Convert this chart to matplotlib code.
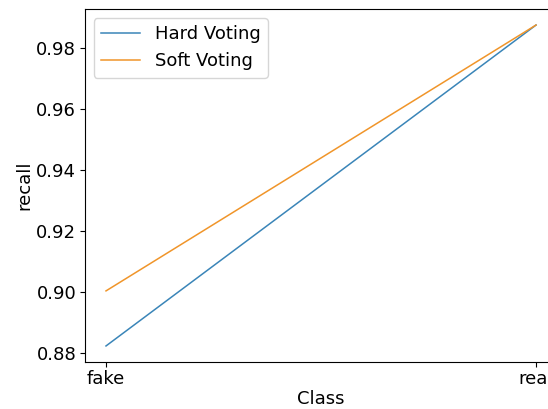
import matplotlib.pyplot as plt

classes = ["fake", "real"]
hard_voting = [0.8822, 0.9877]
soft_voting = [0.9003, 0.9877]

fig = plt.figure(figsize=(5.48, 4.09), dpi=100)
# axes runs a bit past the right edge, so "real" gets clipped
ax = fig.add_axes([84.5 / 548, 47 / 409, 473 / 548, 353 / 409])

ax.plot(classes, hard_voting, color="#3a85b8", lw=1.1, label="Hard Voting")
ax.plot(classes, soft_voting, color="#f0952a", lw=1.1, label="Soft Voting")

ax.set_xlabel("Class", fontsize=13, labelpad=1)
ax.set_ylabel("recall", fontsize=13, labelpad=2)
ax.tick_params(labelsize=13, pad=2.5)
ax.legend(loc="upper left", fontsize=13, handlelength=2.2)

fig.savefig("out.png", dpi=100)
